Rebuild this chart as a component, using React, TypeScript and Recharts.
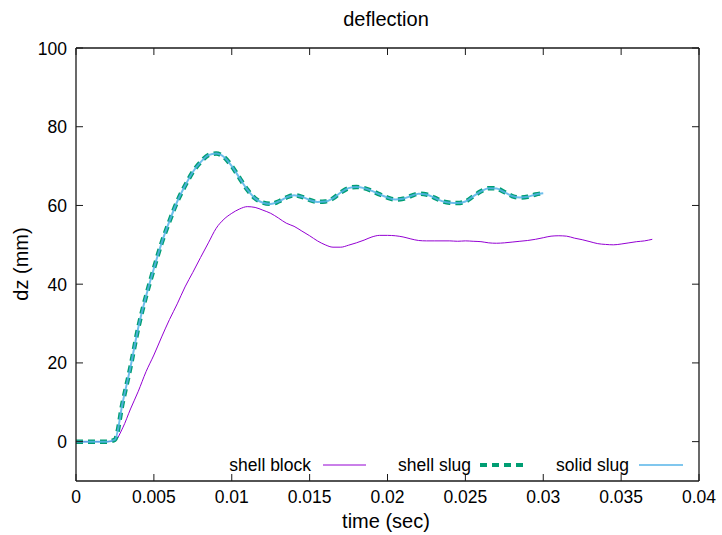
import React from 'react';
import { LineChart, Line, XAxis, YAxis } from 'recharts';

// time samples (sec)
const time = [
  0, 0.0005, 0.001, 0.0015, 0.002, 0.0025, 0.003, 0.0035, 0.004, 0.0045,
  0.005, 0.0055, 0.006, 0.0065, 0.007, 0.0075, 0.008, 0.0085, 0.009, 0.0095,
  0.01, 0.0105, 0.011, 0.0115, 0.012, 0.0125, 0.013, 0.0135, 0.014, 0.0145,
  0.015, 0.0155, 0.016, 0.0165, 0.017, 0.0175, 0.018, 0.0185, 0.019, 0.0195,
  0.02, 0.0205, 0.021, 0.0215, 0.022, 0.0225, 0.023, 0.0235, 0.024, 0.0245,
  0.025, 0.0255, 0.026, 0.0265, 0.027, 0.0275, 0.028, 0.0285, 0.029, 0.0295,
  0.03, 0.0305, 0.031, 0.0315, 0.032, 0.0325, 0.033, 0.0335, 0.034, 0.0345,
  0.035, 0.0355, 0.036, 0.0365, 0.037,
];

// dz (mm)
const shellBlock = [
  0, 0, 0, 0, 0, 0.3, 3.5, 8.3, 12.8, 17.8,
  22, 26.6, 31, 35, 39.3, 43, 46.8, 50.5, 54.2, 56.5,
  58, 59.1, 59.7, 59.5, 58.8, 58, 56.8, 55.5, 54.7, 53.5,
  52.3, 51, 50, 49.4, 49.4, 49.9, 50.5, 51.2, 52, 52.4,
  52.4, 52.3, 52, 51.5, 51.1, 51, 51, 51, 51, 50.9,
  51, 50.9, 50.8, 50.5, 50.4, 50.5, 50.7, 50.9, 51.1, 51.4,
  51.8, 52.2, 52.3, 52.2, 51.7, 51.3, 50.8, 50.3, 50.1, 50,
  50.2, 50.5, 50.8, 51, 51.4,
];

const shellSlug = [
  0, 0, 0, 0, 0, 0.5, 10, 19, 29, 37,
  44, 50.5, 56, 61, 65, 68.5, 71, 72.8, 73.2, 72.3,
  70, 67, 64, 61.8, 60.7, 60.4, 61, 62, 62.6, 62.2,
  61.4, 60.9, 61, 61.8, 63.3, 64.4, 64.7, 64.4, 63.7, 62.8,
  62, 61.5, 61.7, 62.4, 63, 62.8, 62, 61.1, 60.7, 60.6,
  61, 62.3, 63.6, 64.4, 64.3, 63.4, 62.4, 62, 62.2, 62.8,
  63.1,
];

const solidSlug = [
  0, 0, 0, 0, 0, 0.5, 10, 19, 29, 37,
  44, 50.5, 56, 61, 65, 68.5, 71, 72.8, 73.2, 72.3,
  70, 67, 64, 61.8, 60.7, 60.4, 61, 62, 62.6, 62.2,
  61.4, 60.9, 61, 61.8, 63.3, 64.4, 64.7, 64.4, 63.7, 62.8,
  62, 61.5, 61.7, 62.4, 63, 62.8, 62, 61.1, 60.7, 60.6,
  61, 62.3, 63.6, 64.4, 64.3, 63.4, 62.4, 62, 62.2, 62.8,
  63.1,
];

const xTicks = [0, 0.005, 0.01, 0.015, 0.02, 0.025, 0.03, 0.035, 0.04];
const yTicks = [0, 20, 40, 60, 80, 100];

const toRows = (vals: number[]) => vals.map((v, i) => ({ t: time[i], v }));

const FONT = '"Liberation Sans", Arial, sans-serif';
const TICK_LEN = 7;
const FRAME = '#1a1a1a';

const BottomTick = (props: any) => {
  const { x, y, payload } = props;
  return (
    <g>
      <line x1={x} x2={x} y1={y} y2={y - TICK_LEN} stroke={FRAME} />
      <text x={x} y={y + 22} textAnchor="middle" fontSize={17.5} fontFamily={FONT} fill="#000">
        {String(payload.value)}
      </text>
    </g>
  );
};

const TopTick = (props: any) => {
  const { x, y } = props;
  return <line x1={x} x2={x} y1={y} y2={y + TICK_LEN} stroke={FRAME} />;
};

const LeftTick = (props: any) => {
  const { x, y, payload } = props;
  return (
    <g>
      <line x1={x} x2={x + TICK_LEN} y1={y} y2={y} stroke={FRAME} />
      <text x={x - 9} y={y + 6.5} textAnchor="end" fontSize={17.5} fontFamily={FONT} fill="#000">
        {String(payload.value)}
      </text>
    </g>
  );
};

const RightTick = (props: any) => {
  const { x, y } = props;
  return <line x1={x} x2={x - TICK_LEN} y1={y} y2={y} stroke={FRAME} />;
};

export default function App() {
  const W = 722;
  const H = 535;
  const axisLine = { stroke: FRAME, strokeWidth: 1.3 };
  return (
    <div style={{ position: 'fixed', left: 0, top: 0, width: W, height: H, background: '#fff' }}>
      <LineChart width={W} height={H} margin={{ top: 47, right: 22, bottom: 0, left: 0 }}>
        <XAxis
          xAxisId="b"
          type="number"
          dataKey="t"
          domain={[0, 0.04]}
          ticks={xTicks}
          height={54}
          tickSize={0}
          tickMargin={0}
          tickLine={false}
          axisLine={axisLine}
          tick={<BottomTick />}
          allowDataOverflow
        />
        <XAxis
          xAxisId="t"
          orientation="top"
          type="number"
          dataKey="t"
          domain={[0, 0.04]}
          ticks={xTicks}
          height={1}
          tickSize={0}
          tickMargin={0}
          tickLine={false}
          axisLine={axisLine}
          tick={<TopTick />}
          allowDataOverflow
        />
        <YAxis
          yAxisId="l"
          type="number"
          domain={[-10, 100]}
          ticks={yTicks}
          width={76}
          tickSize={0}
          tickMargin={0}
          tickLine={false}
          axisLine={axisLine}
          tick={<LeftTick />}
          allowDataOverflow
        />
        <YAxis
          yAxisId="r"
          orientation="right"
          type="number"
          domain={[-10, 100]}
          ticks={yTicks}
          width={1}
          tickSize={0}
          tickMargin={0}
          tickLine={false}
          axisLine={axisLine}
          tick={<RightTick />}
          allowDataOverflow
        />
        <Line
          xAxisId="b"
          yAxisId="l"
          data={toRows(shellBlock)}
          dataKey="v"
          type="monotone"
          stroke="#9400D3"
          strokeWidth={1}
          dot={false}
          isAnimationActive={false}
        />
        <Line
          xAxisId="b"
          yAxisId="l"
          data={toRows(shellSlug)}
          dataKey="v"
          type="monotone"
          stroke="#009E73"
          strokeWidth={4.5}
          strokeDasharray="7 5"
          dot={false}
          isAnimationActive={false}
        />
        <Line
          xAxisId="b"
          yAxisId="l"
          data={toRows(solidSlug)}
          dataKey="v"
          type="monotone"
          stroke="#56B4E9"
          strokeWidth={2}
          strokeOpacity={0.85}
          dot={false}
          isAnimationActive={false}
        />
      </LineChart>
      <svg
        width={W}
        height={H}
        style={{ position: 'absolute', left: 0, top: 0, pointerEvents: 'none' }}
        fontFamily={FONT}
      >
        <text x={386} y={26} textAnchor="middle" fontSize={20} fill="#000">deflection</text>
        <text x={386} y={528} textAnchor="middle" fontSize={20} fill="#000">time (sec)</text>
        <text x={28} y={264} textAnchor="middle" fontSize={20} fill="#000" transform="rotate(-90 28 264)">
          dz (mm)
        </text>
        <text x={311} y={471} textAnchor="end" fontSize={17.5} fill="#000">shell block</text>
        <line x1={323} x2={366} y1={465} y2={465} stroke="#9400D3" strokeWidth={1} />
        <text x={471} y={471} textAnchor="end" fontSize={17.5} fill="#000">shell slug</text>
        <line x1={480} x2={526} y1={465} y2={465} stroke="#009E73" strokeWidth={4} strokeDasharray="7 5" />
        <text x={629} y={471} textAnchor="end" fontSize={17.5} fill="#000">solid slug</text>
        <line x1={639} x2={683} y1={465} y2={465} stroke="#56B4E9" strokeWidth={1.5} />
      </svg>
    </div>
  );
}
